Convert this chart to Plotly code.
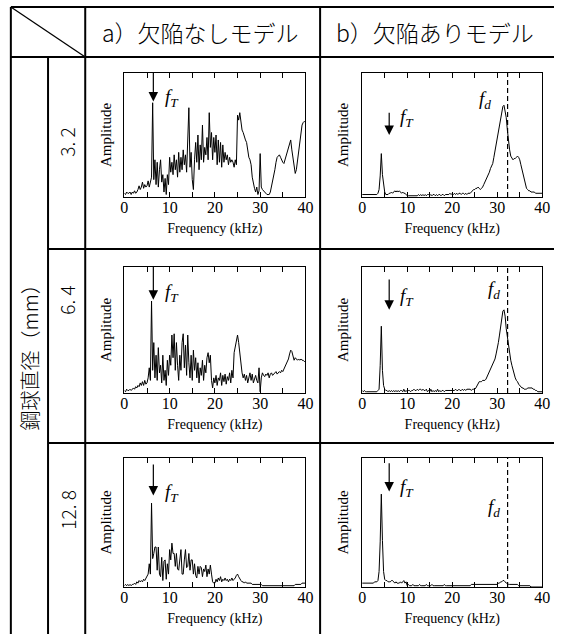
import numpy as np
import plotly.graph_objects as go

# ---------------- DATA ----------------
col_titles = ["a）欠陥なしモデル", "b）欠陥ありモデル"]
row_title = "鋼球直径（mm）"
row_labels = ["3. 2", "6. 4", "12. 8"]
x_label = "Frequency (kHz)"
y_label = "Amplitude"

# frequency bins (kHz), 0.25 kHz resolution
freq = np.linspace(0, 40, 161)

# a) model without defect
amp_a_32 = [
    0.03, 0.02, 0.04, 0.03, 0.03, 0.04, 0.02, 0.04, 0.03, 0.05, 0.03, 0.04,
    0.06, 0.09, 0.06, 0.08, 0.12, 0.07, 0.10, 0.08, 0.09, 0.13, 0.08, 0.12,
    0.16, 0.76, 0.14, 0.30, 0.10, 0.28, 0.08, 0.22, 0.30, 0.12, 0.18, 0.04,
    0.15, 0.02, 0.18, 0.10, 0.32, 0.20, 0.28, 0.18, 0.34, 0.22, 0.30, 0.16,
    0.36, 0.20, 0.32, 0.22, 0.38, 0.26, 0.34, 0.20, 0.40, 0.72, 0.24, 0.36,
    0.14, 0.06, 0.30, 0.44, 0.28, 0.50, 0.22, 0.42, 0.30, 0.58, 0.28, 0.40,
    0.34, 0.48, 0.30, 0.68, 0.40, 0.52, 0.30, 0.48, 0.36, 0.50, 0.26, 0.46,
    0.28, 0.44, 0.24, 0.42, 0.28, 0.36, 0.30, 0.34, 0.26, 0.32, 0.28, 0.30,
    0.28, 0.24, 0.30, 0.26, 0.66, 0.62, 0.68, 0.58, 0.54, 0.52, 0.48, 0.46,
    0.44, 0.36, 0.32, 0.30, 0.26, 0.16, 0.10, 0.07, 0.04, 0.08, 0.02, 0.05,
    0.35, 0.08, 0.06, 0.05, 0.04, 0.03, 0.02, 0.02, 0.02, 0.04, 0.08, 0.12,
    0.16, 0.22, 0.28, 0.32, 0.33, 0.34, 0.32, 0.29, 0.28, 0.27, 0.30, 0.34,
    0.37, 0.40, 0.43, 0.46, 0.38, 0.30, 0.24, 0.19, 0.22, 0.30, 0.38, 0.46,
    0.52, 0.58, 0.60, 0.61, 0.60,
]
amp_a_64 = [
    0.02, 0.01, 0.03, 0.02, 0.02, 0.03, 0.02, 0.03, 0.04, 0.03, 0.05, 0.04,
    0.06, 0.05, 0.08, 0.06, 0.09, 0.06, 0.10, 0.07, 0.08, 0.12, 0.20, 0.10,
    0.73, 0.18, 0.40, 0.12, 0.30, 0.10, 0.36, 0.16, 0.22, 0.08, 0.30, 0.10,
    0.18, 0.06, 0.26, 0.14, 0.30, 0.22, 0.46, 0.28, 0.47, 0.18, 0.40, 0.22,
    0.10, 0.30, 0.18, 0.40, 0.47, 0.20, 0.38, 0.14, 0.46, 0.24, 0.12, 0.30,
    0.10, 0.34, 0.18, 0.28, 0.12, 0.24, 0.08, 0.20, 0.14, 0.26, 0.10, 0.22,
    0.16, 0.28, 0.32, 0.24, 0.30, 0.10, 0.04, 0.12, 0.08, 0.14, 0.06, 0.12,
    0.10, 0.16, 0.06, 0.14, 0.09, 0.15, 0.07, 0.13, 0.10, 0.16, 0.08, 0.18,
    0.12, 0.32, 0.36, 0.40, 0.46, 0.40, 0.30, 0.20, 0.16, 0.12, 0.15, 0.10,
    0.14, 0.08, 0.12, 0.16, 0.10, 0.15, 0.08, 0.12, 0.14, 0.10, 0.08, 0.20,
    0.01, 0.12, 0.16, 0.14, 0.13, 0.15, 0.14, 0.16, 0.12, 0.15, 0.16, 0.14,
    0.15, 0.16, 0.17, 0.15, 0.16, 0.17, 0.16, 0.18, 0.17, 0.19, 0.20, 0.22,
    0.24, 0.27, 0.31, 0.34, 0.33, 0.28, 0.26, 0.28, 0.27, 0.26, 0.27, 0.26,
    0.27, 0.26, 0.26, 0.25, 0.25,
]
amp_a_128 = [
    0.01, 0.02, 0.01, 0.02, 0.01, 0.02, 0.01, 0.02, 0.02, 0.03, 0.02, 0.04,
    0.03, 0.05, 0.04, 0.05, 0.04, 0.06, 0.05, 0.07, 0.08, 0.10, 0.18, 0.10,
    0.65, 0.22, 0.26, 0.31, 0.31, 0.13, 0.31, 0.10, 0.08, 0.23, 0.05, 0.20,
    0.21, 0.06, 0.18, 0.10, 0.29, 0.21, 0.34, 0.26, 0.26, 0.16, 0.26, 0.14,
    0.13, 0.23, 0.29, 0.10, 0.10, 0.21, 0.29, 0.15, 0.16, 0.26, 0.13, 0.21,
    0.21, 0.10, 0.18, 0.09, 0.07, 0.16, 0.10, 0.16, 0.15, 0.08, 0.14, 0.12,
    0.17, 0.08, 0.14, 0.10, 0.17, 0.10, 0.04, 0.03, 0.03, 0.06, 0.04, 0.07,
    0.05, 0.08, 0.04, 0.06, 0.05, 0.07, 0.05, 0.06, 0.04, 0.06, 0.05, 0.07,
    0.05, 0.06, 0.07, 0.09, 0.10, 0.08, 0.06, 0.05, 0.04, 0.04, 0.03, 0.04,
    0.03, 0.03, 0.03, 0.03, 0.03, 0.02, 0.02, 0.02, 0.02, 0.02, 0.02, 0.02,
    0.02, 0.02, 0.01, 0.01, 0.01, 0.01, 0.01, 0.01, 0.01, 0.01, 0.01, 0.01,
    0.01, 0.01, 0.01, 0.01, 0.01, 0.01, 0.01, 0.01, 0.01, 0.01, 0.01, 0.01,
    0.01, 0.01, 0.01, 0.01, 0.01, 0.01, 0.01, 0.02, 0.02, 0.02, 0.02, 0.02,
    0.02, 0.03, 0.03, 0.03, 0.03,
]

# b) model with defect
amp_b_32 = [
    0.02, 0.02, 0.02, 0.02, 0.02, 0.02, 0.02, 0.02, 0.02, 0.02, 0.02, 0.02,
    0.02, 0.02, 0.03, 0.06, 0.17, 0.35, 0.18, 0.09, 0.04, 0.02, 0.02, 0.02,
    0.03, 0.03, 0.04, 0.03, 0.04, 0.05, 0.04, 0.05, 0.04, 0.05, 0.04, 0.03,
    0.04, 0.03, 0.03, 0.02, 0.01, 0.01, 0.01, 0.01, 0.01, 0.01, 0.01, 0.01,
    0.01, 0.01, 0.02, 0.01, 0.02, 0.01, 0.02, 0.01, 0.02, 0.01, 0.02, 0.02,
    0.01, 0.02, 0.01, 0.02, 0.02, 0.01, 0.02, 0.01, 0.02, 0.02, 0.01, 0.02,
    0.02, 0.01, 0.02, 0.02, 0.02, 0.02, 0.03, 0.02, 0.03, 0.02, 0.03, 0.02,
    0.03, 0.02, 0.03, 0.03, 0.02, 0.03, 0.03, 0.02, 0.03, 0.02, 0.03, 0.03,
    0.03, 0.04, 0.05, 0.06, 0.06, 0.07, 0.07, 0.08, 0.07, 0.06, 0.07, 0.08,
    0.10, 0.12, 0.13, 0.15, 0.17, 0.20, 0.23, 0.25, 0.27, 0.32, 0.37, 0.42,
    0.46, 0.51, 0.57, 0.62, 0.68, 0.73, 0.74, 0.70, 0.64, 0.54, 0.44, 0.38,
    0.33, 0.31, 0.30, 0.31, 0.31, 0.32, 0.33, 0.32, 0.30, 0.26, 0.22, 0.17,
    0.13, 0.10, 0.07, 0.06, 0.05, 0.05, 0.04, 0.04, 0.04, 0.04, 0.03, 0.03,
    0.03, 0.03, 0.03, 0.03, 0.03,
]
amp_b_64 = [
    0.02, 0.01, 0.02, 0.01, 0.01, 0.01, 0.01, 0.01, 0.01, 0.01, 0.01, 0.01,
    0.01, 0.01, 0.02, 0.03, 0.22, 0.53, 0.18, 0.06, 0.03, 0.02, 0.02, 0.01,
    0.02, 0.01, 0.02, 0.01, 0.02, 0.01, 0.02, 0.01, 0.02, 0.01, 0.02, 0.02,
    0.01, 0.03, 0.01, 0.02, 0.01, 0.02, 0.02, 0.01, 0.02, 0.02, 0.03, 0.02,
    0.02, 0.03, 0.02, 0.03, 0.03, 0.02, 0.03, 0.02, 0.02, 0.03, 0.01, 0.02,
    0.01, 0.03, 0.01, 0.02, 0.01, 0.02, 0.01, 0.03, 0.01, 0.02, 0.01, 0.02,
    0.02, 0.01, 0.02, 0.02, 0.02, 0.02, 0.02, 0.02, 0.02, 0.02, 0.02, 0.03,
    0.02, 0.02, 0.03, 0.02, 0.02, 0.03, 0.02, 0.03, 0.02, 0.03, 0.03, 0.03,
    0.03, 0.02, 0.03, 0.03, 0.03, 0.04, 0.06, 0.08, 0.09, 0.09, 0.09, 0.10,
    0.10, 0.10, 0.11, 0.13, 0.15, 0.16, 0.18, 0.20, 0.22, 0.24, 0.27, 0.31,
    0.35, 0.40, 0.46, 0.53, 0.60, 0.65, 0.66, 0.61, 0.51, 0.44, 0.37, 0.31,
    0.26, 0.22, 0.18, 0.15, 0.12, 0.10, 0.09, 0.07, 0.06, 0.05, 0.04, 0.04,
    0.03, 0.03, 0.03, 0.04, 0.04, 0.04, 0.04, 0.04, 0.03, 0.03, 0.02, 0.02,
    0.01, 0.01, 0.01, 0.01, 0.01,
]
amp_b_128 = [
    0.03, 0.03, 0.03, 0.03, 0.03, 0.03, 0.03, 0.03, 0.03, 0.03, 0.03, 0.04,
    0.04, 0.04, 0.05, 0.12, 0.35, 0.72, 0.36, 0.12, 0.06, 0.05, 0.05, 0.04,
    0.04, 0.04, 0.05, 0.05, 0.04, 0.03, 0.04, 0.03, 0.03, 0.03, 0.04, 0.03,
    0.04, 0.05, 0.03, 0.04, 0.01, 0.02, 0.01, 0.01, 0.01, 0.02, 0.01, 0.01,
    0.01, 0.01, 0.01, 0.02, 0.01, 0.01, 0.01, 0.01, 0.01, 0.02, 0.01, 0.01,
    0.01, 0.01, 0.02, 0.01, 0.01, 0.01, 0.01, 0.01, 0.01, 0.01, 0.01, 0.01,
    0.01, 0.02, 0.01, 0.01, 0.01, 0.01, 0.01, 0.01, 0.01, 0.01, 0.01, 0.01,
    0.01, 0.01, 0.01, 0.01, 0.01, 0.01, 0.01, 0.01, 0.01, 0.01, 0.01, 0.01,
    0.01, 0.02, 0.02, 0.02, 0.02, 0.02, 0.02, 0.02, 0.02, 0.02, 0.02, 0.02,
    0.02, 0.02, 0.02, 0.02, 0.02, 0.02, 0.02, 0.02, 0.02, 0.02, 0.02, 0.02,
    0.02, 0.03, 0.03, 0.04, 0.04, 0.05, 0.05, 0.04, 0.03, 0.03, 0.02, 0.02,
    0.02, 0.02, 0.02, 0.02, 0.02, 0.02, 0.02, 0.01, 0.01, 0.01, 0.01, 0.01,
    0.01, 0.01, 0.01, 0.01, 0.01, 0.01, 0.00, 0.00, 0.00, 0.00, 0.00, 0.00,
    0.00, 0.00, 0.00, 0.00, 0.00,
]

series = [[amp_a_32, amp_b_32], [amp_a_64, amp_b_64], [amp_a_128, amp_b_128]]

# f_T arrow position (kHz) per column and f_d (kHz)
fT_freq = [6.4, 6.0]
fd_freq = 32.3
# arrow (top, tip) amplitudes per row/column
arrow_a = [(1.01, 0.77), (1.00, 0.74), (0.95, 0.71)]
arrow_b = [(0.68, 0.50), (0.90, 0.66), (0.96, 0.74)]
label_fT_a = [0.80, 0.79, 0.73]
label_fT_b = [0.64, 0.76, 0.77]
label_fd = [0.78, 0.82, 0.61]
label_fd_gap = [3.3, 1.3, 1.3]

# ---------------- LAYOUT HELPERS ----------------
W, H = 562, 634


def PX(x):
    return x / W


def PY(y):
    return 1 - y / H


col_x = [(123, 308), (366, 550)]
row_y = [(73, 197), (267, 393), (458, 587)]
fT_label_gap = [2.2, 1.9]

SERIF = "Liberation Serif, Times New Roman, serif"
CJK = "Noto Sans CJK JP"

fig = go.Figure()
layout = dict(
    width=W, height=H, margin=dict(l=0, r=0, t=0, b=0),
    paper_bgcolor="white", plot_bgcolor="white", showlegend=False,
)
annotations = []
shapes = []

k = 0
for r in range(3):
    for c in range(2):
        k += 1
        xa = "x" if k == 1 else f"x{k}"
        ya = "y" if k == 1 else f"y{k}"
        xname = "xaxis" if k == 1 else f"xaxis{k}"
        yname = "yaxis" if k == 1 else f"yaxis{k}"
        fig.add_trace(go.Scatter(
            x=freq, y=series[r][c], mode="lines",
            line=dict(color="black", width=1), xaxis=xa, yaxis=ya,
            hoverinfo="skip"))
        layout[xname] = dict(
            domain=[PX(col_x[c][0]), PX(col_x[c][1])], anchor=ya,
            range=[0, 40], tick0=0, dtick=10,
            ticks="inside", ticklen=5, tickwidth=1, tickcolor="black",
            minor=dict(dtick=5, tick0=0, ticks="inside", ticklen=5,
                       tickwidth=1, tickcolor="black", showgrid=False),
            showline=True, linecolor="black", linewidth=1, mirror="allticks",
            showgrid=False, zeroline=False, ticklabelstandoff=-4,
            tickfont=dict(family=SERIF, size=16, color="black",
                          weight="normal"),
            title=dict(text=x_label, standoff=7,
                       font=dict(family=SERIF, size=14, color="black",
                                 weight="normal")),
        )
        layout[yname] = dict(
            domain=[PY(row_y[r][1]), PY(row_y[r][0])], anchor=xa,
            range=[0, 1], showticklabels=False, ticks="",
            showline=True, linecolor="black", linewidth=1, mirror=True,
            showgrid=False, zeroline=False,
            title=dict(text=y_label, standoff=8,
                       font=dict(family=SERIF, size=15, color="black",
                                 weight="normal")),
        )
        if c == 0:
            top, tip = arrow_a[r]
            ly = label_fT_a[r]
        else:
            top, tip = arrow_b[r]
            ly = label_fT_b[r]
        fx = fT_freq[c]
        # arrow stem and head
        fig.add_trace(go.Scatter(
            x=[fx, fx], y=[top, tip + 0.03], mode="lines",
            line=dict(color="black", width=1.2), xaxis=xa, yaxis=ya,
            hoverinfo="skip"))
        fig.add_trace(go.Scatter(
            x=[fx], y=[tip], mode="markers",
            marker=dict(symbol="arrow-down", size=9.5, color="black",
                        line=dict(width=0)),
            xaxis=xa, yaxis=ya, hoverinfo="skip"))
        annotations.append(dict(
            x=fx + fT_label_gap[c], y=ly, xref=xa, yref=ya, xanchor="left",
            yanchor="middle", showarrow=False,
            text="<i>f</i><sub><i>T</i></sub>",
            font=dict(family=SERIF, size=19, color="black")))
        if c == 1:
            shapes.append(dict(
                type="line", xref=xa, yref=f"{ya} domain",
                x0=fd_freq, x1=fd_freq, y0=0, y1=1,
                line=dict(color="black", width=1.2, dash="5px,3px")))
            annotations.append(dict(
                x=fd_freq - label_fd_gap[r], y=label_fd[r], xref=xa, yref=ya,
                xanchor="right", yanchor="middle", showarrow=False,
                text="<i>f</i><sub><i>d</i></sub>",
                font=dict(family=SERIF, size=19, color="black")))

# ---------------- TABLE ----------------
LW = 2
table_lines = [
    (7, 7, 562, 7), (7, 57, 562, 57), (45, 249, 562, 249), (45, 443, 562, 443),
    (7, 7, 7, 634), (45, 57, 45, 634), (83, 7, 83, 634), (323, 7, 323, 634),
]
for x0, y0, x1, y1 in table_lines:
    shapes.append(dict(type="line", xref="paper", yref="paper",
                       x0=PX(x0), y0=PY(y0), x1=PX(x1), y1=PY(y1),
                       line=dict(color="black", width=LW)))
shapes.append(dict(type="line", xref="paper", yref="paper",
                   x0=PX(7), y0=PY(7), x1=PX(83), y1=PY(57),
                   line=dict(color="black", width=1.3)))

for i, t in enumerate(col_titles):
    cx = [201, 440][i]
    annotations.append(dict(
        x=PX(cx), y=PY(32), xref="paper", yref="paper", showarrow=False,
        text=t, font=dict(family=CJK, size=23, color="black", weight=300),
        xanchor="center", yanchor="middle"))

annotations.append(dict(
    x=PX(26), y=PY(352), xref="paper", yref="paper", showarrow=False,
    text=row_title, textangle=-90,
    font=dict(family=CJK, size=20, color="black", weight=300),
    xanchor="center", yanchor="middle"))

row_label_y = [142, 300, 510]
for i, t in enumerate(row_labels):
    annotations.append(dict(
        x=PX(64), y=PY(row_label_y[i]), xref="paper", yref="paper",
        showarrow=False, text=t, textangle=-90,
        font=dict(family=CJK, size=19, color="black", weight=300),
        xanchor="center", yanchor="middle"))

layout["annotations"] = annotations
layout["shapes"] = shapes
fig.update_layout(**layout)
fig.write_html(
    "out.html",
    config={"displayModeBar": False, "staticPlot": True},
    post_script="document.body.style.margin='0';"
                "document.body.style.overflow='hidden';")
